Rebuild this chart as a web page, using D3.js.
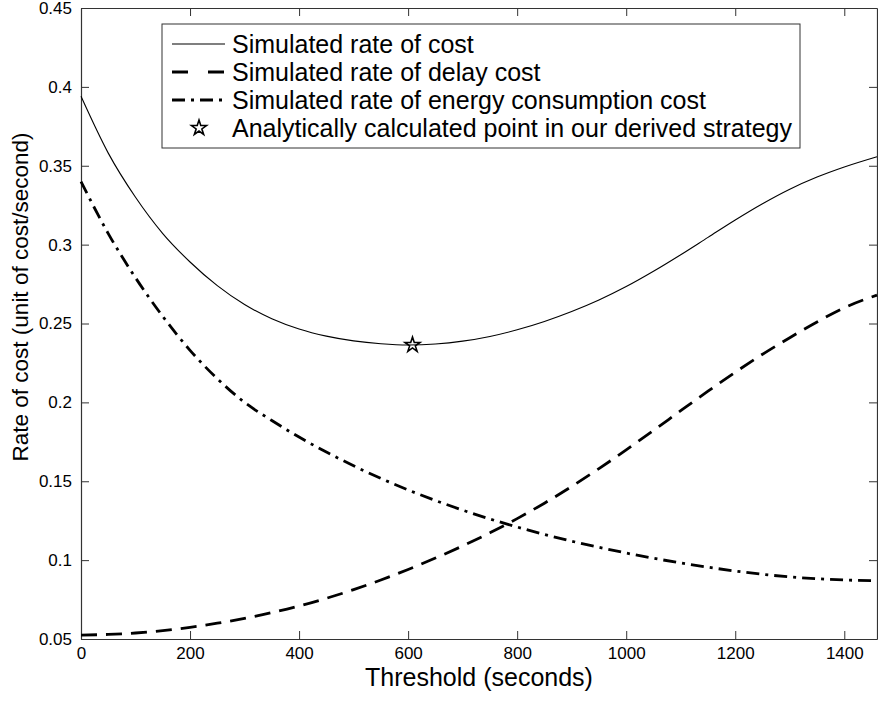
<!DOCTYPE html>
<html>
<head>
<meta charset="utf-8">
<script src="https://cdn.jsdelivr.net/npm/d3@7"></script>
<style>
  html, body { margin: 0; padding: 0; background: #ffffff; }
  svg { display: block; }
  text { font-family: "Liberation Sans", Arial, Helvetica, sans-serif; fill: #000; }
</style>
</head>
<body>
<svg id="chart" width="878" height="702"></svg>
<script>
// Threshold values (seconds) at which the rates were sampled
const thresholds = [0, 50, 100, 150, 200, 250, 300, 350, 400, 450, 500, 550, 600, 650, 700,
  750, 800, 850, 900, 950, 1000, 1050, 1100, 1150, 1200, 1250, 1300, 1350, 1400, 1460];

// Simulated rate of total cost
const totalCost = [0.394, 0.358, 0.330, 0.307, 0.289, 0.274, 0.262, 0.253, 0.2465, 0.2420,
  0.2390, 0.2372, 0.2364, 0.2370, 0.2388, 0.2418, 0.2460, 0.2513, 0.2576, 0.2649,
  0.2734, 0.2831, 0.2936, 0.3046, 0.3156, 0.3259, 0.3351, 0.3428, 0.3492, 0.3557];

// Simulated rate of delay cost
const delayCost = [0.0525, 0.0529, 0.0538, 0.0553, 0.0574, 0.0600, 0.0631, 0.0667, 0.0709, 0.0758,
  0.0813, 0.0874, 0.0941, 0.1013, 0.1090, 0.1173, 0.1263, 0.1361, 0.1467, 0.1580,
  0.1699, 0.1822, 0.1947, 0.2071, 0.2191, 0.2305, 0.2410, 0.2510, 0.2600, 0.2680];

// Simulated rate of energy consumption cost
const energyCost = [0.340, 0.307, 0.279, 0.2545, 0.233, 0.2150, 0.2000, 0.1885, 0.1780, 0.1685,
  0.1598, 0.1518, 0.1445, 0.1378, 0.1317, 0.1261, 0.1210, 0.1163, 0.1120, 0.1081,
  0.1045, 0.1012, 0.0982, 0.0955, 0.0931, 0.0910, 0.0894, 0.0882, 0.0874, 0.0870];

// Analytically calculated optimum
const optimumThreshold = [608];
const optimumRate = [0.2364];

// Axis ticks
const xTicks = [0, 200, 400, 600, 800, 1000, 1200, 1400];
const yTicks = [0.05, 0.1, 0.15, 0.2, 0.25, 0.3, 0.35, 0.4, 0.45];

const legendLabels = [
  "Simulated rate of cost",
  "Simulated rate of delay cost",
  "Simulated rate of energy consumption cost",
  "Analytically calculated point in our derived strategy"
];

const svg = d3.select("#chart");
const plotLeft = 81, plotRight = 877, plotTop = 8, plotBottom = 639;

const x = d3.scaleLinear().domain([0, 1460]).range([plotLeft, plotRight]);
const y = d3.scaleLinear().domain([0.05, 0.45]).range([plotBottom, plotTop]);

const axisColor = "#333";
const tickLen = 8;

// Axes with inward ticks (box style)
const gBottom = svg.append("g").attr("transform", `translate(0,${plotBottom})`)
  .call(d3.axisBottom(x).tickValues(xTicks).tickSizeInner(-tickLen).tickSizeOuter(0)
    .tickPadding(8).tickFormat(d3.format("d")));
const gLeft = svg.append("g").attr("transform", `translate(${plotLeft},0)`)
  .call(d3.axisLeft(y).tickValues(yTicks).tickSizeInner(-tickLen).tickSizeOuter(0)
    .tickPadding(9).tickFormat(d => String(+d.toFixed(2))));
const gTop = svg.append("g").attr("transform", `translate(0,${plotTop})`)
  .call(d3.axisTop(x).tickValues(xTicks).tickSizeInner(-tickLen).tickSizeOuter(0).tickFormat(""));
const gRight = svg.append("g").attr("transform", `translate(${plotRight},0)`)
  .call(d3.axisRight(y).tickValues(yTicks).tickSizeInner(-tickLen).tickSizeOuter(0).tickFormat(""));

[gBottom, gLeft, gTop, gRight].forEach(g => {
  g.select(".domain").attr("stroke", axisColor).attr("stroke-width", 1.2);
  g.selectAll(".tick line").attr("stroke", axisColor).attr("stroke-width", 1);
  g.selectAll(".tick text").attr("font-size", 17)
    .attr("font-family", "Liberation Sans, Arial, sans-serif").attr("fill", "#000");
});

// Axis titles
svg.append("text")
  .attr("x", (plotLeft + plotRight) / 2).attr("y", 686)
  .attr("text-anchor", "middle").attr("font-size", 25)
  .text("Threshold (seconds)");
svg.append("text")
  .attr("transform", "translate(28,297) rotate(-90)")
  .attr("text-anchor", "middle").attr("font-size", 22.5)
  .text("Rate of cost (unit of cost/second)");

// Curves
const plot = svg.append("g");
const lineGen = vals => d3.line()
  .x((d, i) => x(thresholds[i]))
  .y(d => y(d))
  .curve(d3.curveMonotoneX)(vals);

plot.append("path").attr("d", lineGen(totalCost))
  .attr("fill", "none").attr("stroke", "#000").attr("stroke-width", 1.1);
plot.append("path").attr("d", lineGen(delayCost))
  .attr("fill", "none").attr("stroke", "#000").attr("stroke-width", 2.8)
  .attr("stroke-dasharray", "16,9");
plot.append("path").attr("d", lineGen(energyCost))
  .attr("fill", "none").attr("stroke", "#000").attr("stroke-width", 2.8)
  .attr("stroke-dasharray", "13,6,3,6");

// Star marker
const star = d3.symbol().type(d3.symbolStar).size(70);
plot.selectAll(".opt").data(optimumThreshold).join("path")
  .attr("class", "opt")
  .attr("d", star)
  .attr("transform", (d, i) => `translate(${x(d)},${y(optimumRate[i])})`)
  .attr("fill", "none").attr("stroke", "#000").attr("stroke-width", 1.6);

// Legend
const lg = svg.append("g");
lg.append("rect").attr("x", 162).attr("y", 24).attr("width", 638).attr("height", 124)
  .attr("fill", "#fff").attr("stroke", "#333").attr("stroke-width", 1);
const rowY = [44, 72, 100, 128];
const styles = [
  { w: 1.1, dash: null },
  { w: 2.8, dash: "16,20" },
  { w: 2.8, dash: "13,6,3,6" },
  null
];
legendLabels.forEach((label, i) => {
  const st = styles[i];
  if (st) {
    const ln = lg.append("line").attr("x1", 172).attr("x2", 225)
      .attr("y1", rowY[i]).attr("y2", rowY[i])
      .attr("stroke", "#000").attr("stroke-width", st.w);
    if (st.dash) ln.attr("stroke-dasharray", st.dash);
  } else {
    lg.append("path").attr("d", star)
      .attr("transform", `translate(199,${rowY[i]})`)
      .attr("fill", "none").attr("stroke", "#000").attr("stroke-width", 1.6);
  }
  lg.append("text").attr("x", 232).attr("y", rowY[i]).attr("dy", "0.35em")
    .attr("font-size", 25).text(label);
});
</script>
</body>
</html>
